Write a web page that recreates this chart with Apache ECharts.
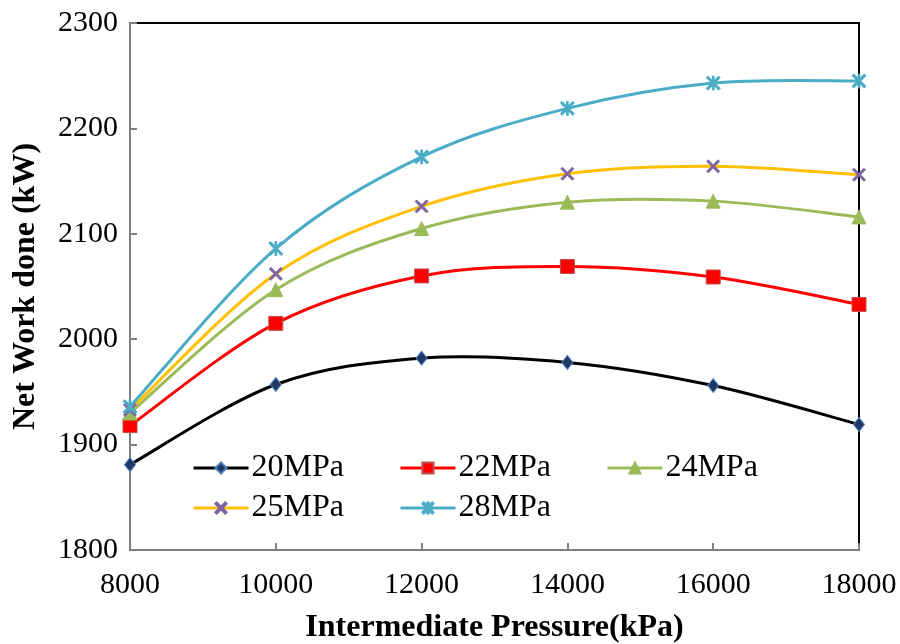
<!DOCTYPE html>
<html>
<head>
<meta charset="utf-8">
<script src="https://cdn.jsdelivr.net/npm/echarts@6/dist/echarts.min.js"></script>
<style>html,body{margin:0;padding:0;background:#fff;}#c{width:900px;height:644px;}</style>
</head>
<body>
<div id="c"></div>
<script>
var pressures = [8000, 10000, 12000, 14000, 16000, 18000];
var seriesNames = ['20MPa', '22MPa', '24MPa', '25MPa', '28MPa'];
var p20 = [1881, 1957, 1982, 1978, 1956, 1919];
var p22 = [1918, 2015, 2060, 2069, 2059, 2033];
var p24 = [1930, 2047, 2105, 2130, 2131, 2116];
var p25 = [1933, 2062, 2126, 2157, 2164, 2156];
var p28 = [1936, 2086, 2173, 2219, 2243, 2245];
var yTicks = [1800, 1900, 2000, 2100, 2200, 2300];
var xTicks = [8000, 10000, 12000, 14000, 16000, 18000];

var FONT = '"Liberation Serif","Times New Roman",serif';
var xPath = 'path://M0,1.2L1.2,0L5,3.8L8.8,0L10,1.2L6.2,5L10,8.8L8.8,10L5,6.2L1.2,10L0,8.8L3.8,5Z';
var starPath = 'path://M0,1.2L1.2,0L5,3.8L8.8,0L10,1.2L6.2,5L10,8.8L8.8,10L5,6.2L1.2,10L0,8.8L3.8,5Z M4.4,0L5.6,0L5.6,10L4.4,10Z';

function pairs(vals) { return pressures.map(function (p, i) { return [p, vals[i]]; }); }

var styles = [
  { data: p20, line: '#000000', fill: '#1f3864', border: '#4f81bd', symbol: 'diamond', size: [11, 14] },
  { data: p22, line: '#ff0000', fill: '#ff0000', border: '#c0504d', symbol: 'rect', size: 14 },
  { data: p24, line: '#9bbb59', fill: '#9bbb59', border: '#9bbb59', symbol: 'triangle', size: 14 },
  { data: p25, line: '#ffc000', fill: '#8064a2', border: '#8064a2', symbol: xPath, size: 13 },
  { data: p28, line: '#4bacc6', fill: '#4bacc6', border: '#4bacc6', symbol: starPath, size: 14 }
];

// Smooth curve (Excel-like cardinal spline) drawn through the data via the axis scales
function curveSeries(s, idx) {
  return {
    type: 'custom',
    name: seriesNames[idx] + ' curve',
    coordinateSystem: 'cartesian2d',
    data: [[pressures[0], s.data[0]]],
    encode: { x: 0, y: 1 },
    silent: true,
    z: 2 + idx,
    renderItem: function (params, api) {
      var pts = pressures.map(function (p, i) { return api.coord([p, s.data[i]]); });
      var n = pts.length;
      var children = [];
      for (var i = 0; i < n - 1; i++) {
        var p0 = pts[Math.max(i - 1, 0)], p1 = pts[i], p2 = pts[i + 1], p3 = pts[Math.min(i + 2, n - 1)];
        children.push({
          type: 'bezierCurve',
          shape: {
            x1: p1[0], y1: p1[1], x2: p2[0], y2: p2[1],
            cpx1: p1[0] + (p2[0] - p0[0]) / 6, cpy1: p1[1] + (p2[1] - p0[1]) / 6,
            cpx2: p2[0] - (p3[0] - p1[0]) / 6, cpy2: p2[1] - (p3[1] - p1[1]) / 6
          },
          style: { stroke: s.line, lineWidth: 3, fill: null, lineCap: 'round' }
        });
      }
      return { type: 'group', children: children };
    }
  };
}

var markerSeries = styles.map(function (s, i) {
  return {
    name: seriesNames[i],
    type: 'line',
    data: pairs(s.data),
    symbol: s.symbol,
    symbolSize: s.size,
    showAllSymbol: true,
    lineStyle: { color: s.line, width: 3, opacity: 0 },
    itemStyle: { color: s.fill, borderColor: s.border, borderWidth: 1 },
    z: 10 + i
  };
});

var series = styles.map(curveSeries).concat(markerSeries);

function legendData(names, offset) {
  return names.map(function (n, i) {
    var s = styles[offset + i];
    return { name: n, lineStyle: { color: s.line, width: 3, opacity: 1 } };
  });
}

var legendCommon = {
  orient: 'horizontal',
  padding: 0,
  itemWidth: 55,
  itemHeight: 14,
  itemGap: 55,
  textStyle: { fontFamily: FONT, fontSize: 32, color: '#000', padding: [0, 0, 0, -2] },
  selectedMode: false
};

var option = {
  backgroundColor: '#fff',
  animation: false,
  grid: { left: 130, right: 41, top: 23, bottom: 94, show: true, borderColor: '#000', borderWidth: 2, backgroundColor: 'transparent', outerBoundsMode: 'none', containLabel: false },
  xAxis: {
    type: 'value', min: 8000, max: 18000, interval: 2000,
    name: 'Intermediate Pressure(kPa)', nameLocation: 'middle', nameGap: 62,
    nameTextStyle: { fontFamily: FONT, fontSize: 32, fontWeight: 'bold', color: '#000' },
    axisLine: { show: true, lineStyle: { color: '#808080', width: 2 } },
    axisTick: { show: true, inside: true, length: 7, lineStyle: { color: '#808080', width: 2 } },
    axisLabel: { fontFamily: FONT, fontSize: 30, color: '#000', margin: 20,
      formatter: function (v) { return xTicks.indexOf(v) >= 0 ? String(v) : ''; } },
    splitLine: { show: false }
  },
  yAxis: {
    type: 'value', min: 1800, max: 2300, interval: 100,
    name: 'Net Work done (kW)', nameLocation: 'middle', nameGap: 88, nameRotate: 90,
    nameTextStyle: { fontFamily: FONT, fontSize: 32, fontWeight: 'bold', color: '#000' },
    axisLine: { show: true, lineStyle: { color: '#808080', width: 2 } },
    axisTick: { show: true, inside: true, length: 7, lineStyle: { color: '#808080', width: 2 } },
    axisLabel: { fontFamily: FONT, fontSize: 30, color: '#000', margin: 12,
      formatter: function (v) { return yTicks.indexOf(v) >= 0 ? String(v) : ''; } },
    splitLine: { show: false }
  },
  legend: [
    Object.assign({}, legendCommon, { left: 192, top: 452, data: legendData(seriesNames.slice(0, 3), 0) }),
    Object.assign({}, legendCommon, { left: 192, top: 492, data: legendData(seriesNames.slice(3), 3) })
  ],
  series: series
};

var chart = echarts.init(document.getElementById('c'), null, { renderer: 'canvas' });
chart.setOption(option);
</script>
</body>
</html>
